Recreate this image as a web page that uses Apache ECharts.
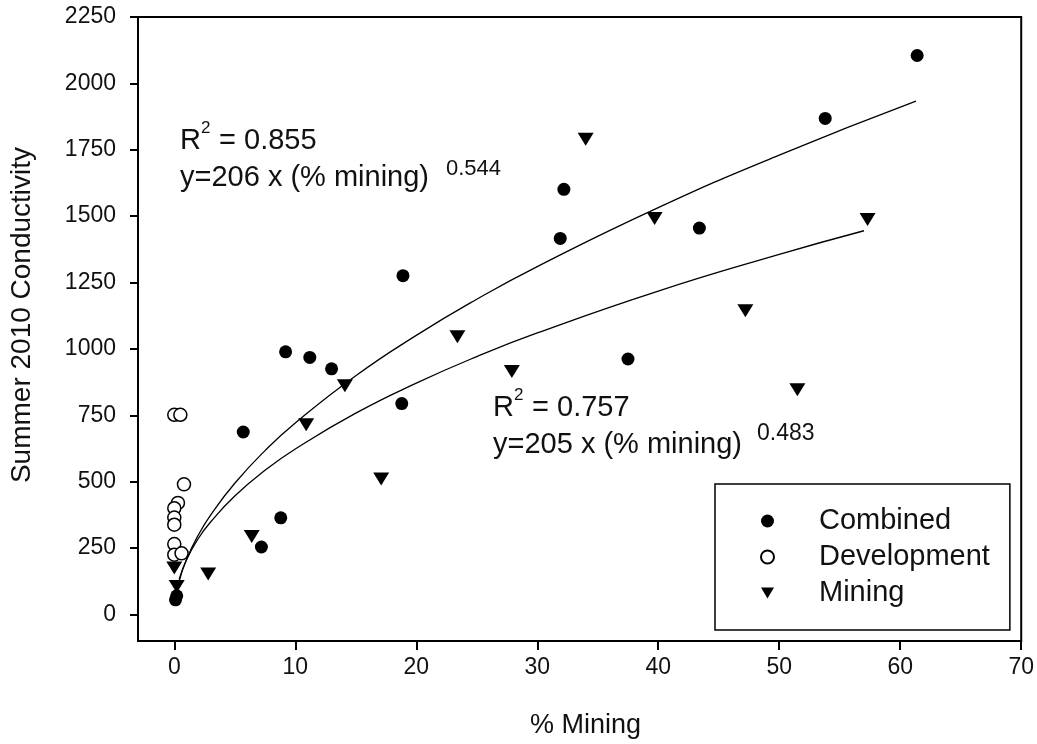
<!DOCTYPE html>
<html>
<head>
<meta charset="utf-8">
<script src="https://cdn.jsdelivr.net/npm/echarts@6/dist/echarts.min.js"></script>
<style>
  html, body { margin: 0; padding: 0; background: #fff; }
  #chart { width: 1037px; height: 744px; }
</style>
</head>
<body>
<div id="chart"></div>
<script>
// values
const combinedX = [61.4, 53.8, 32.2, 31.9, 43.4, 18.9, 37.5, 18.8, 9.2, 11.2, 13.0, 5.7, 8.8, 7.2, 0.2, 0.1]
const combinedY = [2105, 1868, 1601, 1416, 1455, 1276, 962, 794, 989, 968, 925, 687, 364, 254, 70, 55]

const developmentX = [0.0, 0.5, 0.8, 0.3, 0.0, 0.0, 0.0, 0.0, 0.0, 0.6]
const developmentY = [752, 752, 490, 420, 400, 365, 338, 265, 225, 230]

const miningX = [57.3, 34.0, 39.7, 47.2, 23.4, 27.9, 51.5, 14.1, 10.9, 17.1, 6.4, 2.8, 0.0, 0.2]
const miningY = [1487, 1790, 1491, 1144, 1046, 915, 846, 861, 714, 510, 294, 152, 175, 105]

// fitted curves
const fitCombinedX = [0.4, 1, 2, 3, 5, 7.5, 10, 15, 20, 25, 30, 40, 50, 61.3]
const fitCombinedY = [125, 206, 300, 374, 494, 617, 721, 899, 1051, 1187, 1310, 1532, 1730, 1933]
const fitMiningX = [0.4, 1, 2, 3, 5, 7.5, 10, 15, 20, 25, 30, 40, 50, 57]
const fitMiningY = [132, 205, 287, 348, 446, 543, 623, 758, 871, 971, 1060, 1218, 1356, 1445]

const xTicks = [0, 10, 20, 30, 40, 50, 60, 70]
const yTicks = [0, 250, 500, 750, 1000, 1250, 1500, 1750, 2000, 2250]

const FONT = '"Liberation Sans", Arial, sans-serif'
const INK = '#111'
const triangleDown = 'path://M0,0L10,0L5,8.5Z'

function pairs(xs, ys) {
  return xs.map((x, i) => [x, ys[i]])
}

function txt(x, y, text, size) {
  return {
    type: 'text', x: x, y: y, silent: true,
    style: { text: text, fill: INK, font: size + 'px ' + FONT, align: 'left', verticalAlign: 'middle' }
  }
}

const chart = echarts.init(document.getElementById('chart'))
const option = {
  backgroundColor: '#fff',
  animation: false,
  grid: {
    left: 137, right: 11, top: 17, bottom: 103,
    show: true, borderColor: '#000', borderWidth: 2
  },
  xAxis: {
    type: 'value', min: -3, max: 70,
    name: '% Mining', nameLocation: 'middle', nameGap: 71,
    nameTextStyle: { fontFamily: FONT, fontSize: 27, color: INK, padding: [0, 0, 0, 12] },
    axisLine: { show: true, onZero: false, lineStyle: { color: '#000', width: 2 } },
    axisTick: { show: true, length: 9, customValues: xTicks, lineStyle: { color: '#000', width: 2 } },
    axisLabel: { customValues: xTicks, margin: 15, fontFamily: FONT, fontSize: 23, color: INK },
    splitLine: { show: false }
  },
  yAxis: {
    type: 'value', min: -100, max: 2250,
    name: 'Summer 2010 Conductivity', nameLocation: 'middle', nameGap: 102,
    nameTextStyle: { fontFamily: FONT, fontSize: 28, color: INK, padding: [0, 0, 0, 28] },
    axisLine: { show: true, onZero: false, lineStyle: { color: '#000', width: 2 } },
    axisTick: { show: true, length: 8, customValues: yTicks, lineStyle: { color: '#000', width: 2 } },
    axisLabel: { customValues: yTicks, margin: 22, fontFamily: FONT, fontSize: 23, color: INK,
      formatter: v => String(v) },
    splitLine: { show: false }
  },
  legend: {
    left: 715, top: 484, orient: 'vertical',
    data: ['Combined', 'Development', 'Mining'],
    borderColor: '#000', borderWidth: 1.5,
    padding: [22, 20, 22, 45],
    itemWidth: 13, itemHeight: 13, itemGap: 6,
    textStyle: { fontFamily: FONT, fontSize: 29, color: INK, lineHeight: 30, padding: [0, 0, 0, 40] }
  },
  graphic: [
    txt(180, 141, 'R', 29),
    txt(201, 128, '2', 17),
    txt(211, 141, ' = 0.855', 29),
    txt(180, 178, 'y=206 x (% mining)', 29),
    txt(446, 169, '0.544', 22),
    txt(493, 408, 'R', 29),
    txt(514, 395, '2', 17),
    txt(524, 408, ' = 0.757', 29),
    txt(493, 445, 'y=205 x (% mining)', 29),
    txt(757, 434, '0.483', 23)
  ],
  series: [
    {
      name: 'fitCombined', type: 'line', data: pairs(fitCombinedX, fitCombinedY),
      showSymbol: false, smooth: true, silent: true,
      lineStyle: { color: '#000', width: 1.3 }
    },
    {
      name: 'fitMining', type: 'line', data: pairs(fitMiningX, fitMiningY),
      showSymbol: false, smooth: true, silent: true,
      lineStyle: { color: '#000', width: 1.3 }
    },
    {
      name: 'Combined', type: 'scatter', data: pairs(combinedX, combinedY),
      symbol: 'circle', symbolSize: 13,
      itemStyle: { color: '#000', opacity: 1 }
    },
    {
      name: 'Development', type: 'scatter', data: pairs(developmentX, developmentY),
      symbol: 'circle', symbolSize: 13,
      itemStyle: { color: '#fff', borderColor: '#000', borderWidth: 1.5, opacity: 1 }
    },
    {
      name: 'Mining', type: 'scatter', data: pairs(miningX, miningY),
      symbol: triangleDown, symbolSize: [16, 13],
      itemStyle: { color: '#000', opacity: 1 }
    }
  ]
}
chart.setOption(option)
</script>
</body>
</html>
